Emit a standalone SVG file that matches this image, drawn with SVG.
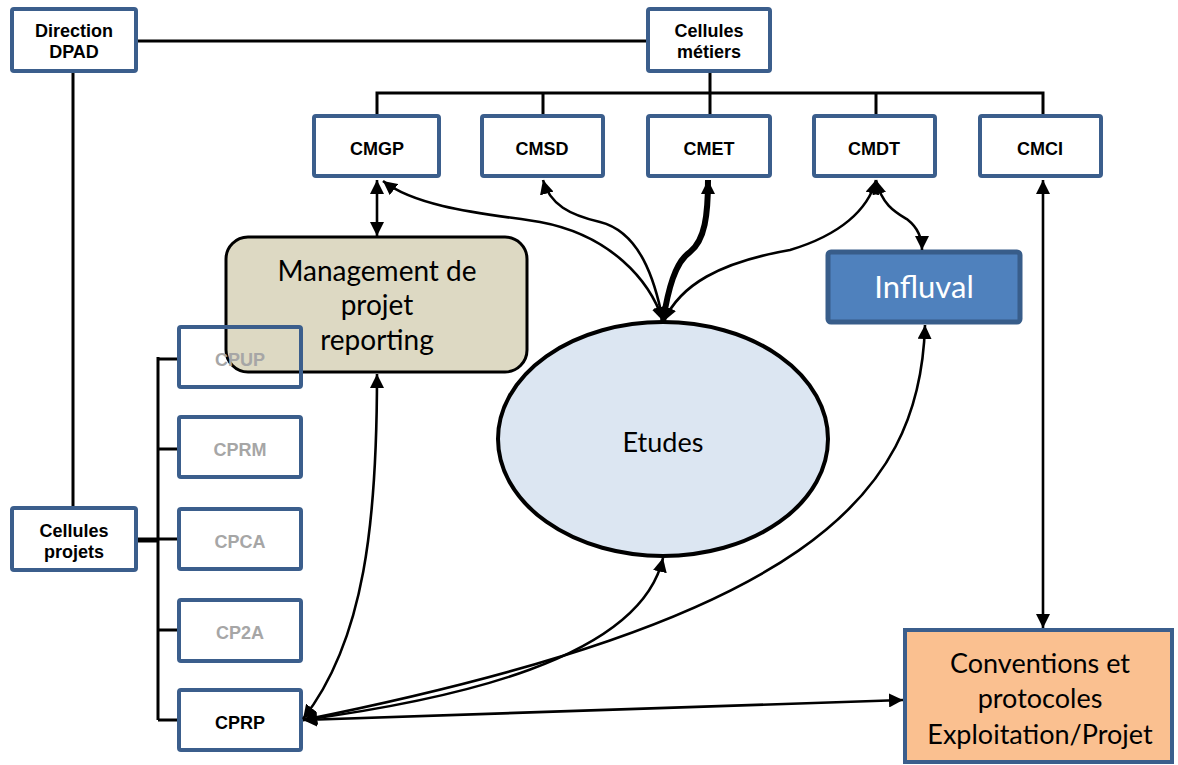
<svg xmlns="http://www.w3.org/2000/svg" width="1178" height="765" viewBox="0 0 1178 765">
<style>
.box{fill:#fff;stroke:#3B5E8C;stroke-width:4}
.lbl{font-family:"Liberation Sans",Arial,sans-serif;font-weight:bold;font-size:18px;fill:#000;text-anchor:middle}
.gray{fill:#A6A6A6}
.big{font-family:Lato,"Open Sans",sans-serif;font-size:28px;fill:#000;text-anchor:middle}
.ln{fill:none;stroke:#000;stroke-width:3}
.ar{fill:none;stroke:#000;stroke-width:2.6;marker-start:url(#ah);marker-end:url(#ah)}
</style>
<defs>
<marker id="ah" viewBox="0 0 10 10" refX="10" refY="5" markerWidth="14" markerHeight="14" markerUnits="userSpaceOnUse" orient="auto-start-reverse">
<path d="M0,0 L10,5 L0,10 z" fill="#000"/>
</marker>
</defs>
<rect width="1178" height="765" fill="#fff"/>

<g id="tree">
<path class="ln" d="M136 41 H648 M710 71 V93 M377 116 V93 H1043 V116 M543 93 V116 M710 93 V116 M876 93 V116"/>
<path class="ln" d="M73 71 V508"/>
<path class="ln" d="M136 540 H158" style="stroke-width:5"/>
<path class="ln" d="M158 357 V720 M158 359 H180 M158 449 H180 M158 539 H180 M158 630 H180 M158 720 H180"/>
</g>

<g id="dpad"><rect class="box" x="12" y="9" width="124" height="62" rx="2"/><text class="lbl" x="74" y="37">Direction</text><text class="lbl" x="74" y="58">DPAD</text></g>
<g id="metiers"><rect class="box" x="648" y="9" width="122" height="62" rx="2"/><text class="lbl" x="709" y="37">Cellules</text><text class="lbl" x="709" y="58">métiers</text></g>
<g id="cmgp"><rect class="box" x="314" y="116" width="125" height="60" rx="2"/><text class="lbl" x="377" y="155">CMGP</text></g>
<g id="cmsd"><rect class="box" x="482" y="116" width="121" height="60" rx="2"/><text class="lbl" x="542" y="155">CMSD</text></g>
<g id="cmet"><rect class="box" x="648" y="116" width="122" height="60" rx="2"/><text class="lbl" x="709" y="155">CMET</text></g>
<g id="cmdt"><rect class="box" x="814" y="116" width="121" height="60" rx="2"/><text class="lbl" x="874" y="155">CMDT</text></g>
<g id="cmci"><rect class="box" x="980" y="116" width="121" height="60" rx="2"/><text class="lbl" x="1040" y="155">CMCI</text></g>

<g id="projets"><rect class="box" x="12" y="508" width="124" height="62" rx="2"/><text class="lbl" x="74" y="537">Cellules</text><text class="lbl" x="74" y="558">projets</text></g>

<g id="management"><rect x="226" y="237" width="301" height="135" rx="22" fill="#DDD9C3" stroke="#000" stroke-width="3"/>
<text class="big" x="377" y="281">Management de</text><text class="big" x="377" y="315">projet</text><text class="big" x="377" y="350">reporting</text></g>

<g id="cpup"><rect class="box" x="179" y="327" width="122" height="60" rx="2" style="fill:none"/><text class="lbl gray" x="240" y="366">CPUP</text></g>
<g id="cprm"><rect class="box" x="179" y="417" width="122" height="60" rx="2"/><text class="lbl gray" x="240" y="456">CPRM</text></g>
<g id="cpca"><rect class="box" x="179" y="509" width="122" height="60" rx="2"/><text class="lbl gray" x="240" y="548">CPCA</text></g>
<g id="cp2a"><rect class="box" x="179" y="600" width="122" height="61" rx="2"/><text class="lbl gray" x="240" y="639">CP2A</text></g>
<g id="cprp"><rect class="box" x="179" y="690" width="122" height="60" rx="2"/><text class="lbl" x="240" y="729">CPRP</text></g>

<g id="etudes"><ellipse cx="663" cy="439" rx="165" ry="117" fill="#DCE6F2" stroke="#000" stroke-width="4"/><text class="big" x="663" y="452" style="font-size:27px">Etudes</text></g>

<g id="influval"><rect x="828" y="252" width="192" height="70" rx="3" fill="#4F81BD" stroke="#385D8A" stroke-width="5"/><text class="big" x="924" y="298" style="fill:#fff;font-size:31px">Influval</text></g>

<g id="conventions"><rect x="905" y="630" width="267" height="132" fill="#FAC090" stroke="#3B5E8C" stroke-width="4"/>
<text class="big" x="1040" y="673" style="font-size:27px">Conventions et</text><text class="big" x="1040" y="708" style="font-size:27px">protocoles</text><text class="big" x="1040" y="744" style="font-size:27px">Exploitation/Projet</text></g>

<g id="connectors">
<path class="ar" d="M377 180 V236"/>
<path class="ar" d="M383 181 C420 210 500 215 540 222 C610 235 650 280 663 321"/>
<path class="ar" d="M543 180 C550 205 570 215 600 222 C640 232 655 280 663 321"/>
<path class="ar" d="M708 180 C708 215 705 240 690 252 C675 262 668 290 663 321" style="stroke-width:6"/>
<path class="ar" d="M876 180 C868 210 840 235 790 250 C720 262 680 285 664 321"/>
<path class="ar" d="M876 180 C882 205 895 212 908 220 C918 228 922 238 922 250"/>
<path class="ar" d="M1043 180 V628"/>
<path class="ar" d="M377 374 C377 520 365 640 303 719"/>
<path class="ar" d="M663 558 C640 660 450 700 303 720"/>
<path class="ar" d="M925 325 C920 500 800 620 303 720"/>
<path class="ar" d="M903 700 L303 720"/>
</g>
</svg>
